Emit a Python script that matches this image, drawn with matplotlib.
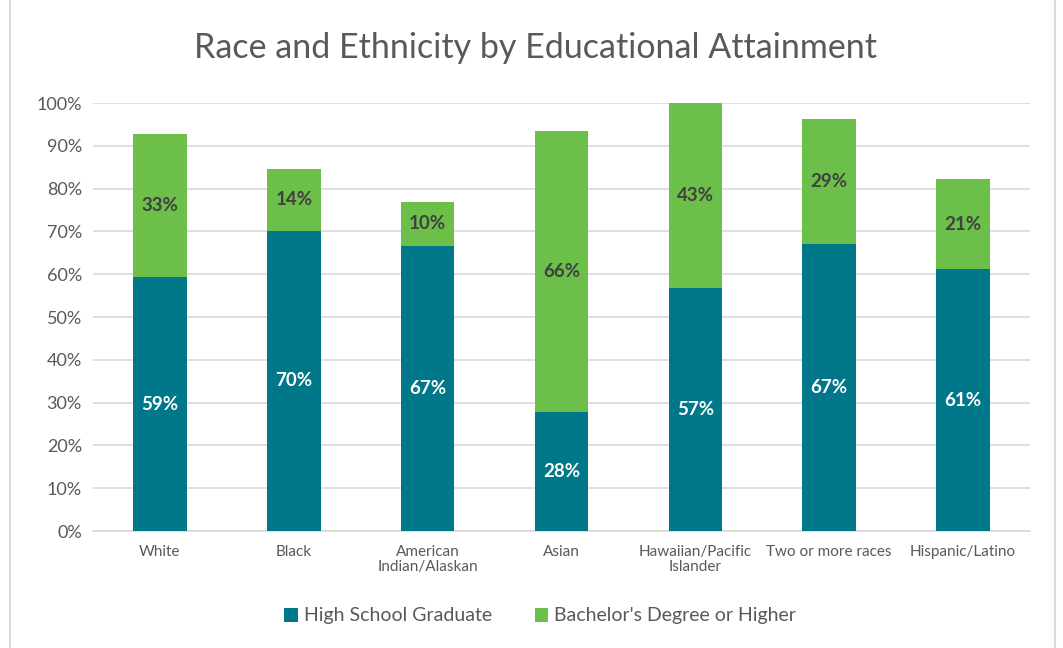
import matplotlib
matplotlib.use("Agg")
import matplotlib.pyplot as plt
from matplotlib.patches import Rectangle

categories = ["White", "Black", "American\nIndian/Alaskan", "Asian",
              "Hawaiian/Pacific\nIslander", "Two or more races", "Hispanic/Latino"]
hs_grad = [59.3, 70.2, 66.7, 27.9, 56.7, 67.0, 61.2]
bachelor = [33.4, 14.4, 10.1, 65.5, 43.3, 29.3, 21.0]
hs_labels = ["59%", "70%", "67%", "28%", "57%", "67%", "61%"]
ba_labels = ["33%", "14%", "10%", "66%", "43%", "29%", "21%"]
yticks = [0, 10, 20, 30, 40, 50, 60, 70, 80, 90, 100]

TEAL = "#00788A"
GREEN = "#6CC04A"
TXT = "#595959"

plt.rcParams['font.family'] = ['Lato', 'DejaVu Sans']

fig = plt.figure(figsize=(10.63, 6.48), dpi=100)
fig.patches.append(Rectangle((10/1063, -0.01), (1055-10)/1063, 1.02, transform=fig.transFigure,
                             fill=False, edgecolor="#D9D9D9", linewidth=1.5))
ax = fig.add_axes([93/1063, 1-531/648, (1030-93)/1063, (531-103)/648])

x = list(range(len(categories)))
ax.bar(x, hs_grad, width=0.4, color=TEAL, label="High School Graduate", zorder=3)
ax.bar(x, bachelor, width=0.4, bottom=hs_grad, color=GREEN,
       label="Bachelor's Degree or Higher", zorder=3)

for i in x:
    ax.text(i, hs_grad[i] / 2, hs_labels[i], ha="center", va="center",
            color="white", fontsize=13.5, fontweight="bold", zorder=4)
    ax.text(i, hs_grad[i] + bachelor[i] / 2, ba_labels[i], ha="center", va="center",
            color="#404040", fontsize=13.5, fontweight="bold", zorder=4)

ax.set_xlim(-0.5, len(categories) - 0.5)
ax.set_ylim(0, 100)
ax.set_yticks(yticks)
ax.set_yticklabels([f"{t}%" for t in yticks], fontsize=13, color=TXT)
ax.set_xticks(x)
ax.set_xticklabels(categories, fontsize=11, color=TXT, linespacing=1.1)
ax.tick_params(axis="both", length=0)
ax.tick_params(axis="x", pad=10)
ax.tick_params(axis="y", pad=8)
ax.grid(axis="y", color="#D9D9D9", linewidth=1.2, zorder=0)
for s in ["top", "right", "left"]:
    ax.spines[s].set_visible(False)
ax.spines["bottom"].set_color("#D9D9D9")
ax.spines["bottom"].set_linewidth(1.2)

fig.text(535/1063, 1-48/648, "Race and Ethnicity by Educational Attainment",
         ha="center", va="center", fontsize=24.5, color=TXT)

leg = fig.legend(loc="center", bbox_to_anchor=(540/1063, 1-616/648), ncol=2, frameon=False,
                 fontsize=14, handlelength=0.7, handleheight=0.7, handletextpad=0.3,
                 columnspacing=2.2)
for t in leg.get_texts():
    t.set_color(TXT)

fig.savefig("out.png", dpi=100)
